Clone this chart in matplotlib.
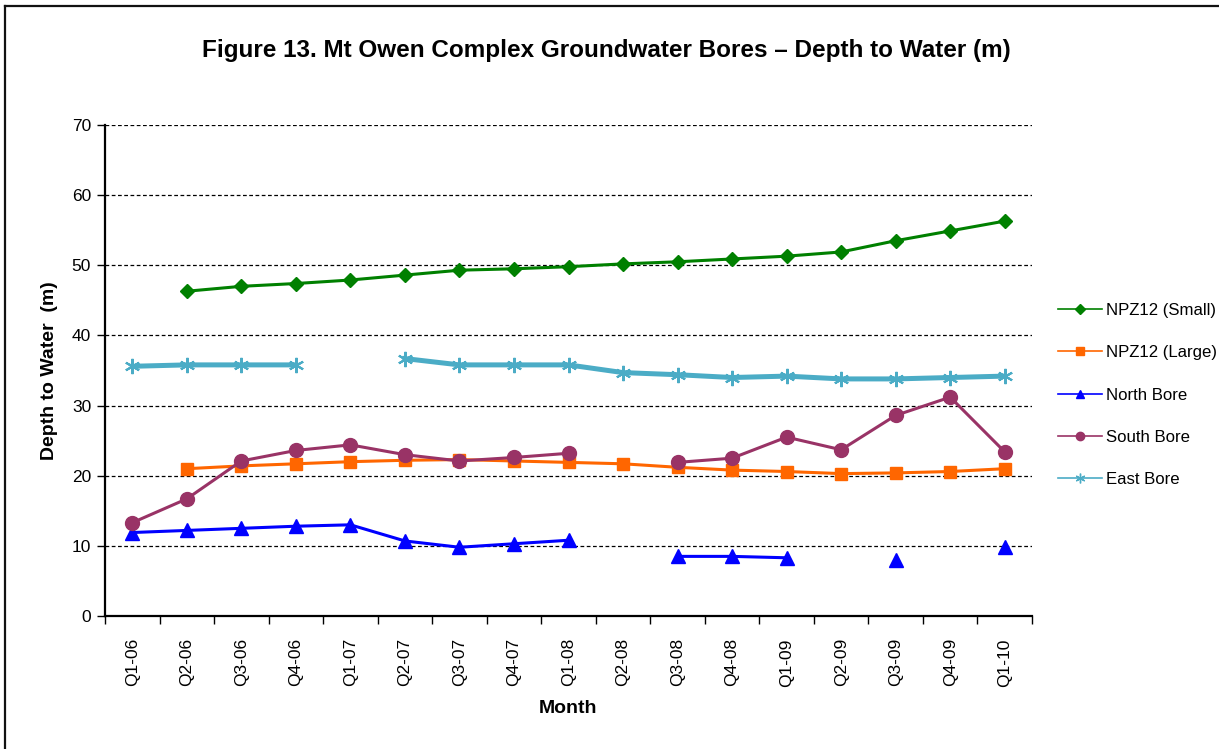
import numpy as np
import matplotlib
matplotlib.use("Agg")
import matplotlib.pyplot as plt
from matplotlib.lines import Line2D

plt.rcParams['font.family'] = ['Liberation Sans', 'DejaVu Sans']

quarters = ["Q1-06", "Q2-06", "Q3-06", "Q4-06", "Q1-07", "Q2-07", "Q3-07", "Q4-07", "Q1-08",
            "Q2-08", "Q3-08", "Q4-08", "Q1-09", "Q2-09", "Q3-09", "Q4-09", "Q1-10"]
nan = np.nan
npz12_small = [nan, 46.3, 47.0, 47.4, 47.9, 48.6, 49.3, 49.5, 49.8, 50.2, 50.5, 50.9, 51.3, 51.9, 53.5, 54.9, 56.3]
npz12_large = [nan, 21.0, 21.4, 21.7, 22.0, 22.2, 22.3, 22.1, 21.9, 21.7, 21.2, 20.8, 20.6, 20.3, 20.4, 20.6, 21.0]
north_bore = [11.9, 12.2, 12.5, 12.8, 13.0, 10.7, 9.8, 10.3, 10.8, nan, 8.5, 8.5, 8.3, nan, 8.0, nan, 9.9]
south_bore = [13.3, 16.7, 22.1, 23.6, 24.4, 23.0, 22.1, 22.6, 23.2, nan, 21.9, 22.5, 25.5, 23.7, 28.6, 31.2, 23.4]
east_bore = [35.6, 35.8, 35.8, 35.8, nan, 36.7, 35.8, 35.8, 35.8, 34.7, 34.4, 34.0, 34.2, 33.8, 33.8, 34.0, 34.2]

series = [
    ("NPZ12 (Small)", npz12_small, "#008000", "D", 7.5, 2.2),
    ("NPZ12 (Large)", npz12_large, "#FF6600", "s", 9, 2.2),
    ("North Bore", north_bore, "#0000FF", "^", 10, 2.2),
    ("South Bore", south_bore, "#993366", "o", 10, 2.2),
    ("East Bore", east_bore, "#4BACC6", (6, 2, 0), 11, 3.6),
]

fig = plt.figure(figsize=(12.19, 7.49), dpi=100)
ax = fig.add_axes([105/1219, 1 - 616/749, (1032-105)/1219, (616-125)/749])

x = np.arange(len(quarters))
handles = []
for name, vals, col, mk, ms, lw in series:
    kw = dict(color=col, marker=mk, markersize=ms, linewidth=lw, markerfacecolor=col, markeredgecolor=col)
    if isinstance(mk, tuple):
        kw['markeredgewidth'] = 1.5
    ax.plot(x, vals, **kw, zorder=3)
    lms = {"D": 5, "s": 6, "^": 6, "o": 6}.get(mk, 7) if not isinstance(mk, tuple) else 7
    handles.append(Line2D([0], [0], color=col, marker=mk, markersize=lms, linewidth=1.2,
                          markerfacecolor=col, markeredgecolor=col, label=name))

ax.set_xlim(-0.5, len(quarters) - 0.5)
ax.set_ylim(0, 70)
ax.set_yticks(np.arange(0, 71, 10))
ax.set_xticks(x)
ax.set_xticklabels(quarters, rotation=90, fontsize=12.5)
ax.set_xticks(np.arange(-0.5, len(quarters), 1), minor=True)
ax.tick_params(axis='x', which='major', length=0, pad=16)
ax.tick_params(axis='x', which='minor', length=6, width=1, direction='out')
ax.tick_params(axis='y', length=6, width=1, direction='out', labelsize=12.5, pad=4)

ax.grid(axis='y', color='black', linestyle=(0, (3, 2)), linewidth=0.9, zorder=0)
ax.spines['top'].set_visible(False)
ax.spines['right'].set_visible(False)
ax.spines['left'].set_linewidth(1.6)
ax.spines['bottom'].set_linewidth(1.6)

ax.set_ylabel("Depth to Water  (m)", fontsize=14, fontweight='bold', labelpad=10)
ax.set_xlabel("Month", fontsize=14, fontweight='bold', labelpad=10)

fig.text(0.4975, 1 - 50/749, "Figure 13. Mt Owen Complex Groundwater Bores \u2013 Depth to Water (m)",
         ha='center', va='center', fontsize=17.5, fontweight='bold')

leg = fig.legend(handles=handles, loc='upper left', bbox_to_anchor=(1043/1219, 1 - 288/749),
                 frameon=False, fontsize=12.1, labelspacing=1.62, handlelength=2.6, handletextpad=0.25)

# outer chart border: only top and left edges are visible in the reference
fig.add_artist(Line2D([5/1219, 1.0], [1 - 6/749, 1 - 6/749], transform=fig.transFigure,
                      color='#111111', linewidth=1.6))
fig.add_artist(Line2D([5/1219, 5/1219], [0.0, 1 - 6/749], transform=fig.transFigure,
                      color='#111111', linewidth=1.6))

fig.savefig("out.png", dpi=100)
